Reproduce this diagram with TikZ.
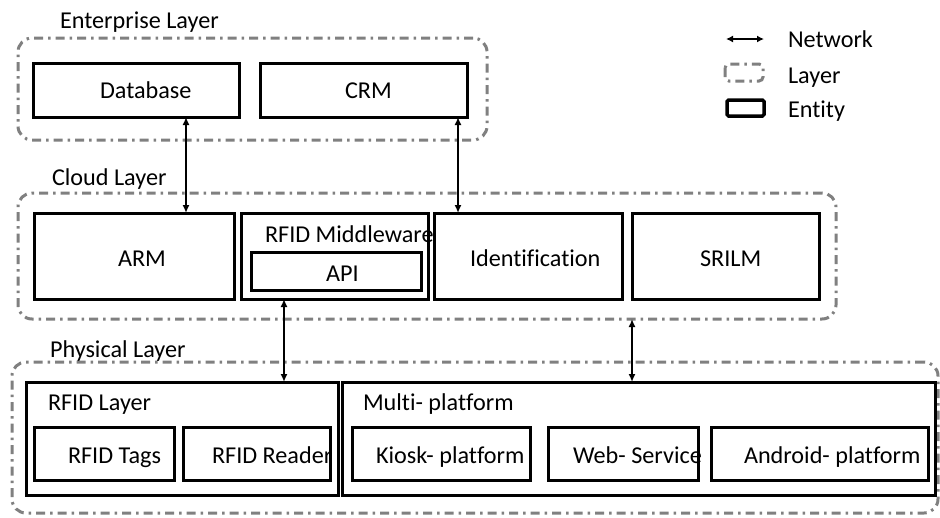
\documentclass[tikz,border=0pt]{standalone}
\usepackage{fontspec}
\setmainfont{Carlito}[Ligatures=NoCommon]
\usetikzlibrary{arrows.meta}
\definecolor{laygray}{RGB}{128,128,128}
\begin{document}
\begin{tikzpicture}[x=1pt,y=-1pt,
  every node/.style={font=\fontsize{24.2}{29}\selectfont, inner sep=0pt, outer sep=0pt},
  entity/.style={draw=black, line width=3pt, anchor=north west},
  layerbox/.style={draw=laygray, line width=3pt, rounded corners=14pt, anchor=north west,
    dash pattern=on 9pt off 5pt on 2.5pt off 5pt},
  net/.style={line width=2pt, {Latex[length=8pt,width=7pt]}-{Latex[length=8pt,width=7pt]}},
  txt/.style={anchor=base west}]
\useasboundingbox (0,0) rectangle (940,517);
% layers
\node[layerbox, minimum width=469pt, minimum height=102pt] (ent) at (18,38) {};
\node[layerbox, minimum width=818pt, minimum height=126pt] (cloud) at (18,193) {};
\node[layerbox, minimum width=926pt, minimum height=151pt] (phys) at (12,362) {};
\node[txt] (entL) at (60,28) {Enterprise Layer};
\node[txt] (cloudL) at (52,185) {Cloud Layer};
\node[txt] (physL) at (50,357) {Physical Layer};
% enterprise entities
\node[entity, minimum width=206pt, minimum height=54pt] (db) at (33,63) {};
\node[txt] (dbT) at (100,98) {Database};
\node[entity, minimum width=207pt, minimum height=54pt] (crm) at (260,63) {};
\node[txt] (crmT) at (345,98) {CRM};
% cloud entities
\node[entity, minimum width=200pt, minimum height=86pt] (arm) at (34,213) {};
\node[txt] (armT) at (118,266) {ARM};
\node[entity, minimum width=187pt, minimum height=86pt] (mw) at (241,213) {};
\node[txt] (mwL) at (265,242) {RFID Middleware};
\node[entity, minimum width=170pt, minimum height=38pt] (api) at (251,252) {};
\node[txt] (apiT) at (326,281) {API};
\node[entity, minimum width=188pt, minimum height=86pt] (ident) at (434,213) {};
\node[txt] (identT) at (470,266) {Identification};
\node[entity, minimum width=187pt, minimum height=86pt] (srilm) at (632,213) {};
\node[txt] (srilmT) at (700,266) {SRILM};
% physical entities
\node[entity, minimum width=312pt, minimum height=113pt] (rfidl) at (26,382) {};
\node[txt] (rfidlT) at (48,410) {RFID Layer};
\node[entity, minimum width=140pt, minimum height=53pt] (tags) at (34,427) {};
\node[txt] (tagsT) at (68,463) {RFID Tags};
\node[entity, minimum width=147pt, minimum height=53pt] (reader) at (183,427) {};
\node[txt] (readerT) at (212,463) {RFID Reader};
\node[entity, minimum width=593pt, minimum height=113pt] (multi) at (342,382) {};
\node[txt] (multiT) at (363,410) {Multi- platform};
\node[entity, minimum width=178pt, minimum height=53pt] (kiosk) at (352,427) {};
\node[txt] (kioskT) at (376,463) {Kiosk- platform};
\node[entity, minimum width=150pt, minimum height=53pt] (web) at (548,427) {};
\node[txt] (webT) at (573,463) {Web- Service};
\node[entity, minimum width=217pt, minimum height=53pt] (android) at (711,427) {};
\node[txt] (androidT) at (744,463) {Android- platform};
% connectors
\coordinate (x1) at (186,0);
\coordinate (x2) at (458,0);
\coordinate (x3) at (284,0);
\coordinate (x4) at (632,0);
\draw[net] (x1 |- db.south) -- (x1 |- arm.north);
\draw[net] (x2 |- crm.south) -- (x2 |- ident.north);
\draw[net] (x3 |- mw.south) -- (x3 |- rfidl.north);
\draw[net] (x4 |- cloud.south) -- (x4 |- multi.north);
% legend
\coordinate (lg1) at (726,39);
\coordinate (lg2) at (764,39);
\draw[line width=2pt, {Latex[length=7pt,width=7pt]}-{Latex[length=7pt,width=7pt]}] (lg1) -- (lg2);
\node[txt] (legN) at (788,47) {Network};
\draw[draw=laygray, line width=3pt, rounded corners=4pt, dash pattern=on 9pt off 5pt on 2.5pt off 5pt] (725,64) rectangle (763,81);
\node[txt] (legL) at (788,83) {Layer};
\draw[line width=3.5pt, rounded corners=1.5pt] (727,100) rectangle (764,116);
\node[txt] (legE) at (788,117) {Entity};
\end{tikzpicture}
\end{document}
